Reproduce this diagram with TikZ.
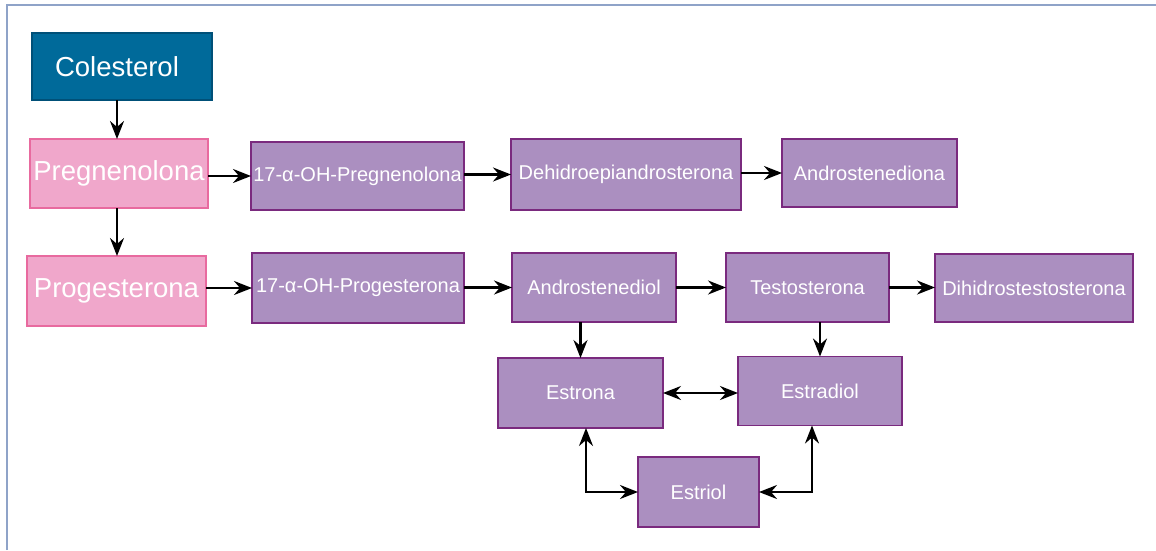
\documentclass[tikz,border=0pt]{standalone}
\usepackage{fontspec}
\setmainfont{Liberation Sans}
\usetikzlibrary{arrows.meta}
\definecolor{framec}{HTML}{8FA3C8}
\definecolor{tealf}{HTML}{006A9A}
\definecolor{teald}{HTML}{005078}
\definecolor{pinkf}{HTML}{F0A7CB}
\definecolor{pinkd}{HTML}{E86A9F}
\definecolor{purpf}{HTML}{AB8FC0}
\definecolor{purpd}{HTML}{7A2A7E}
\tikzset{
  basebox/.style={rectangle, inner sep=0pt, outer sep=0pt, text=white, line width=1.5pt},
  tealbox/.style={basebox, fill=tealf, draw=teald, font=\fontsize{27.5}{30}\selectfont},
  pinkbox/.style={basebox, fill=pinkf, draw=pinkd, font=\fontsize{27.5}{30}\selectfont},
  purpbox/.style={basebox, fill=purpf, draw=purpd, font=\fontsize{20}{24}\selectfont},
  arr/.style={line width=2.4pt, -{Stealth[length=18pt,width=14pt,inset=6pt]}},
  darr/.style={line width=2.4pt, {Stealth[length=18pt,width=14pt,inset=6pt]}-{Stealth[length=18pt,width=14pt,inset=6pt]}},
}
\begin{document}
\begin{tikzpicture}
\begin{scope}[x=1pt,y=-1pt]
\path[use as bounding box] (0,0) rectangle (1156,550);
\fill[white] (0,0) rectangle (1156,550);
\coordinate (fbl) at (7,550);
\coordinate (ftl) at (7,5);
\coordinate (ftr) at (1156,5);
\draw[framec, line width=2.5pt] (fbl) -- (ftl) -- (ftr);

\node[tealbox, minimum width=180, minimum height=67] (cole) at (122,66.5) {\hspace*{-10pt}Colesterol};
\node[pinkbox, minimum width=178, minimum height=69] (preg) at (119,173.5) {Pregnenolona};
\node[pinkbox, minimum width=179, minimum height=70] (prog) at (116.5,291) {Progesterona};

\node[purpbox, minimum width=213, minimum height=68] (p17) at (357.5,176) {17-α-OH-Pregnenolona};
\node[purpbox, minimum width=230, minimum height=71] (dhea) at (626,174.5) {Dehidroepiandrosterona};
\node[purpbox, minimum width=175, minimum height=68] (adiona) at (869.5,173) {Androstenediona};

\node[purpbox, minimum width=212, minimum height=70] (g17) at (358,288) {17-α-OH-Progesterona};
\node[purpbox, minimum width=164, minimum height=69] (adiol) at (594,287.5) {Androstenediol};
\node[purpbox, minimum width=163, minimum height=69] (testo) at (807.5,287.5) {Testosterona};
\node[purpbox, minimum width=198, minimum height=68] (dht) at (1034,288) {Dihidrostestosterona};

\node[purpbox, minimum width=165, minimum height=70] (estrona) at (580.5,393) {Estrona};
\node[purpbox, minimum width=164, minimum height=69] (estradiol) at (820,391) {Estradiol};
\node[purpbox, minimum width=121, minimum height=70] (estriol) at (698.5,492) {Estriol};
\end{scope}

\draw[arr] ([xshift=-5pt]cole.south) -- ([xshift=-5pt]cole.south |- preg.north);
\draw[arr] ([xshift=-2pt]preg.south) -- ([xshift=-2pt]preg.south |- prog.north);
\draw[arr] (preg.east |- p17) -- (p17.west);
\draw[arr] (p17.east |- dhea) -- (dhea.west);
\draw[arr] (dhea.east |- adiona) -- (adiona.west);
\draw[arr] (prog.east |- g17) -- (g17.west);
\draw[arr] (g17.east |- adiol) -- (adiol.west);
\draw[arr] (adiol.east) -- (testo.west);
\draw[arr] (testo.east) -- (testo.east -| dht.west);
\draw[arr] (adiol.south -| estrona) -- (estrona.north);
\draw[arr] (testo.south -| estradiol) -- (estradiol.north);
\draw[darr] (estrona.east) -- (estrona.east -| estradiol.west);
\draw[darr] ([xshift=5.5pt]estrona.south) |- (estriol.west);
\draw[darr] ([xshift=-8pt]estradiol.south) |- (estriol.east);
\end{tikzpicture}
\end{document}
